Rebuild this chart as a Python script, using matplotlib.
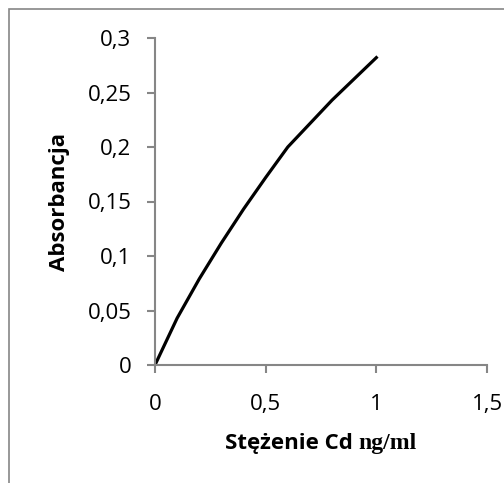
import matplotlib
matplotlib.use("Agg")
import matplotlib.pyplot as plt
from matplotlib.patches import Rectangle
from matplotlib.offsetbox import TextArea, HPacker, AnnotationBbox

conc = [0, 0.1, 0.2, 0.3, 0.4, 0.5, 0.6, 0.8, 1.0]
absorb = [0, 0.043, 0.079, 0.112, 0.143, 0.172, 0.200, 0.243, 0.282]
xticks = [0, 0.5, 1, 1.5]
xtick_labels = ["0", "0,5", "1", "1,5"]
yticks = [0, 0.05, 0.1, 0.15, 0.2, 0.25, 0.3]
ytick_labels = ["0", "0,05", "0,1", "0,15", "0,2", "0,25", "0,3"]

W, H = 504, 483
fig = plt.figure(figsize=(W/100, H/100), dpi=100)
fig.patch.set_facecolor("white")
# chart border
fig.add_artist(Rectangle((9/W, -0.01), 1.1, (H-9)/H + 0.01, transform=fig.transFigure,
                         fill=False, edgecolor="#868686", linewidth=1.2))

ax = fig.add_axes([155/W, 1-365/H, (487-155)/W, (365-38)/H])
ax.plot(conc, absorb, color="black", linewidth=2.3, solid_joinstyle="round")
ax.set_xlim(0, 1.5)
ax.set_ylim(0, 0.3)
ax.set_xticks(xticks)
ax.set_xticklabels(xtick_labels)
ax.set_yticks(yticks)
ax.set_yticklabels(ytick_labels)
for s in ["top", "right"]:
    ax.spines[s].set_visible(False)
for s in ["left", "bottom"]:
    ax.spines[s].set_color("#868686")
    ax.spines[s].set_linewidth(1.5)
ax.tick_params(direction="out", length=6, width=1.5, color="#868686",
               labelsize=16, labelcolor="black")
for lab in ax.get_xticklabels() + ax.get_yticklabels():
    lab.set_fontfamily("Open Sans")
ax.tick_params(axis="x", pad=15)
ax.tick_params(axis="y", pad=11)

fig.text(60/W, 1-202/H, "Absorbancja", rotation=90, ha="center", va="center",
         fontsize=16, fontweight="bold", fontfamily="Open Sans")

t1 = TextArea("Stężenie Cd ", textprops=dict(fontsize=16, fontweight="bold", fontfamily="Open Sans"))
t2 = TextArea("ng/ml", textprops=dict(fontsize=17, fontweight="bold", fontfamily="Liberation Serif"))
box = HPacker(children=[t1, t2], align="baseline", pad=0, sep=0)
ab = AnnotationBbox(box, (321/W, 1-443/H), xycoords="figure fraction", frameon=False,
                    box_alignment=(0.5, 0.5))
fig.add_artist(ab)

fig.savefig("out.png", dpi=100, facecolor="white")
